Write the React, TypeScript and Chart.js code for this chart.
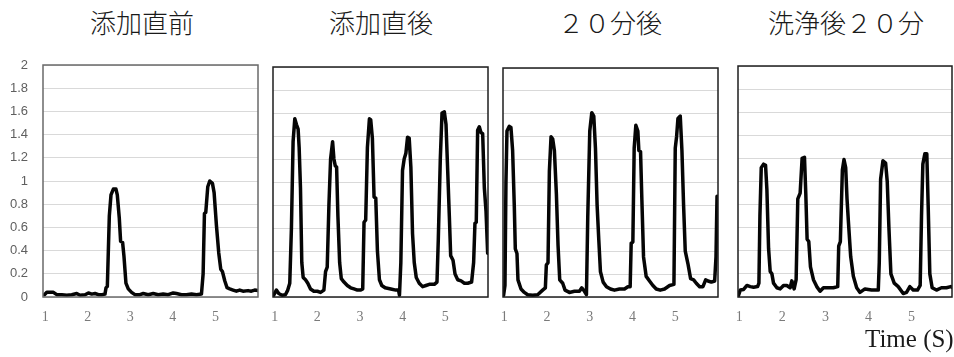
import React, { useEffect, useRef } from "react";
import { Chart, registerables } from "chart.js";

Chart.register(...registerables);

const titles = ["添加直前", "添加直後", "２０分後", "洗浄後２０分"];
const xTickValues = [1, 2, 3, 4, 5];
const yTickStep = 0.2;
const yMin = 0;
const yMax = 2;
const xAxisTitle = "Time (S)";

const time1 = [0.984, 1.039, 1.117, 1.195, 1.273, 1.391, 1.508, 1.625, 1.742, 1.82, 1.938, 2.016, 2.094, 2.172, 2.25, 2.328, 2.406, 2.43, 2.461, 2.508, 2.547, 2.602, 2.664, 2.695, 2.742, 2.773, 2.82, 2.852, 2.898, 2.953, 3.031, 3.109, 3.227, 3.305, 3.422, 3.539, 3.656, 3.773, 3.891, 4.008, 4.086, 4.203, 4.32, 4.438, 4.555, 4.672, 4.711, 4.742, 4.773, 4.82, 4.867, 4.93, 4.969, 5.023, 5.078, 5.125, 5.164, 5.219, 5.273, 5.336, 5.414, 5.492, 5.57, 5.648, 5.766, 5.844, 5.922, 6.0];
const signal1 = [0.02, 0.04, 0.04, 0.04, 0.02, 0.02, 0.015, 0.02, 0.03, 0.015, 0.02, 0.035, 0.025, 0.03, 0.02, 0.02, 0.025, 0.08, 0.09, 0.7, 0.88, 0.93, 0.93, 0.88, 0.68, 0.48, 0.47, 0.35, 0.12, 0.07, 0.04, 0.02, 0.02, 0.03, 0.02, 0.03, 0.02, 0.025, 0.02, 0.035, 0.03, 0.02, 0.02, 0.025, 0.02, 0.025, 0.2, 0.72, 0.73, 0.95, 1.0, 0.98, 0.9, 0.62, 0.38, 0.24, 0.22, 0.14, 0.08, 0.07, 0.06, 0.05, 0.06, 0.05, 0.055, 0.05, 0.06, 0.055];

const time2 = [0.976, 1.039, 1.094, 1.173, 1.251, 1.306, 1.353, 1.392, 1.431, 1.471, 1.51, 1.549, 1.573, 1.604, 1.635, 1.667, 1.722, 1.776, 1.839, 1.918, 2.0, 2.075, 2.153, 2.192, 2.231, 2.271, 2.31, 2.357, 2.388, 2.42, 2.451, 2.482, 2.522, 2.561, 2.624, 2.702, 2.78, 2.859, 2.937, 3.016, 3.063, 3.094, 3.133, 3.173, 3.22, 3.251, 3.29, 3.329, 3.369, 3.408, 3.455, 3.51, 3.588, 3.722, 3.839, 3.902, 3.925, 3.957, 3.996, 4.035, 4.075, 4.114, 4.153, 4.192, 4.231, 4.271, 4.318, 4.388, 4.467, 4.545, 4.624, 4.741, 4.804, 4.835, 4.882, 4.922, 4.976, 5.016, 5.055, 5.094, 5.125, 5.18, 5.227, 5.29, 5.369, 5.447, 5.525, 5.616, 5.663, 5.694, 5.725, 5.757, 5.796, 5.835, 5.875, 5.914, 5.953, 5.992];
const signal2 = [0.015, 0.06, 0.03, 0.015, 0.02, 0.06, 0.12, 0.6, 1.35, 1.55, 1.5, 1.46, 1.3, 0.95, 0.3, 0.17, 0.15, 0.12, 0.07, 0.05, 0.05, 0.04, 0.06, 0.22, 0.26, 0.8, 1.2, 1.35, 1.2, 1.14, 1.13, 0.7, 0.3, 0.16, 0.13, 0.1, 0.08, 0.07, 0.06, 0.06, 0.07, 0.65, 0.67, 1.3, 1.55, 1.54, 1.38, 0.87, 0.86, 0.4, 0.15, 0.1, 0.08, 0.07, 0.06, 0.06, 0.015, 0.3, 1.1, 1.2, 1.25, 1.39, 1.38, 1.13, 0.55, 0.3, 0.17, 0.12, 0.09, 0.1, 0.11, 0.11, 0.13, 0.5, 1.2, 1.6, 1.61, 1.5, 1.1, 0.7, 0.36, 0.32, 0.2, 0.15, 0.14, 0.12, 0.12, 0.13, 0.3, 0.64, 0.65, 1.45, 1.48, 1.43, 1.42, 0.95, 0.75, 0.38];

const time3 = [0.984, 1.016, 1.039, 1.063, 1.117, 1.156, 1.195, 1.234, 1.258, 1.297, 1.32, 1.391, 1.469, 1.547, 1.664, 1.781, 1.898, 1.961, 1.984, 2.023, 2.055, 2.094, 2.133, 2.172, 2.219, 2.258, 2.297, 2.367, 2.422, 2.523, 2.641, 2.758, 2.813, 2.875, 2.922, 2.953, 3.0, 3.047, 3.094, 3.133, 3.172, 3.211, 3.25, 3.313, 3.391, 3.484, 3.578, 3.695, 3.813, 3.891, 3.945, 3.969, 4.008, 4.039, 4.078, 4.125, 4.148, 4.188, 4.219, 4.258, 4.32, 4.398, 4.477, 4.555, 4.648, 4.75, 4.867, 4.969, 5.0, 5.031, 5.063, 5.117, 5.156, 5.195, 5.234, 5.297, 5.359, 5.43, 5.492, 5.57, 5.648, 5.711, 5.766, 5.844, 5.922, 5.953, 5.977];
const signal3 = [0.015, 0.1, 1.0, 1.45, 1.49, 1.48, 1.28, 0.8, 0.42, 0.38, 0.15, 0.07, 0.04, 0.02, 0.015, 0.02, 0.06, 0.08, 0.28, 0.3, 1.1, 1.4, 1.38, 1.28, 0.9, 0.45, 0.15, 0.12, 0.06, 0.04, 0.05, 0.05, 0.08, 0.05, 0.02, 0.7, 1.45, 1.61, 1.58, 1.3, 0.8, 0.5, 0.22, 0.13, 0.09, 0.07, 0.06, 0.07, 0.07, 0.09, 0.09, 0.47, 0.48, 1.3, 1.5, 1.45, 1.28, 1.27, 0.85, 0.35, 0.18, 0.14, 0.1, 0.07, 0.06, 0.07, 0.1, 0.11, 1.3, 1.4, 1.56, 1.58, 1.28, 0.8, 0.4, 0.29, 0.16, 0.15, 0.12, 0.09, 0.09, 0.15, 0.14, 0.13, 0.14, 0.35, 0.88];

const time4 = [0.969, 1.023, 1.1, 1.178, 1.255, 1.332, 1.425, 1.456, 1.479, 1.51, 1.564, 1.61, 1.641, 1.68, 1.718, 1.757, 1.795, 1.873, 1.95, 2.027, 2.104, 2.181, 2.22, 2.274, 2.32, 2.359, 2.413, 2.459, 2.514, 2.544, 2.575, 2.614, 2.653, 2.722, 2.799, 2.876, 2.954, 3.07, 3.185, 3.286, 3.309, 3.347, 3.394, 3.432, 3.471, 3.502, 3.533, 3.587, 3.649, 3.726, 3.803, 3.919, 4.073, 4.228, 4.251, 4.282, 4.336, 4.398, 4.436, 4.475, 4.521, 4.598, 4.691, 4.807, 4.884, 4.961, 5.039, 5.139, 5.201, 5.232, 5.263, 5.309, 5.355, 5.386, 5.425, 5.479, 5.579, 5.695, 5.811, 5.911, 5.965];
const signal4 = [0.0, 0.06, 0.065, 0.1, 0.09, 0.085, 0.09, 0.12, 0.7, 1.12, 1.15, 1.14, 0.93, 0.42, 0.22, 0.2, 0.12, 0.08, 0.07, 0.1, 0.1, 0.08, 0.14, 0.07, 0.15, 0.85, 0.9, 1.2, 1.21, 0.9, 0.5, 0.48, 0.26, 0.15, 0.09, 0.05, 0.08, 0.08, 0.08, 0.09, 0.44, 0.48, 1.1, 1.19, 1.12, 0.85, 0.66, 0.35, 0.18, 0.08, 0.04, 0.07, 0.06, 0.06, 0.3, 1.02, 1.18, 1.16, 1.0, 0.6, 0.2, 0.12, 0.09, 0.03, 0.04, 0.09, 0.06, 0.06, 0.1, 0.7, 1.15, 1.24, 1.24, 0.8, 0.2, 0.08, 0.06, 0.08, 0.08, 0.09, 0.08];

const CANVAS_H = 330;
const PLOT_BOTTOM = 297;

type PanelCfg = {
  title: string;
  t: number[];
  v: number[];
  plotLeft: number;
  plotRight: number;
  plotTop: number;
  xMin: number;
  xMax: number;
  showY: boolean;
  frame: string;
  titleCenter: number;
};

const panels: PanelCfg[] = [
  { title: titles[0], t: time1, v: signal1, plotLeft: 43, plotRight: 258, plotTop: 65, xMin: 0.95, xMax: 6.0, showY: true, frame: "#6a6a6a", titleCenter: 142 },
  { title: titles[1], t: time2, v: signal2, plotLeft: 273, plotRight: 488, plotTop: 67, xMin: 0.96, xMax: 6.0, showY: false, frame: "#1e1e1e", titleCenter: 381 },
  { title: titles[2], t: time3, v: signal3, plotLeft: 503, plotRight: 718, plotTop: 68, xMin: 0.97, xMax: 6.0, showY: false, frame: "#1e1e1e", titleCenter: 610 },
  { title: titles[3], t: time4, v: signal4, plotLeft: 738, plotRight: 952, plotTop: 66, xMin: 0.97, xMax: 5.94, showY: false, frame: "#1e1e1e", titleCenter: 846 },
];

function Panel({ cfg }: { cfg: PanelCfg }) {
  const ref = useRef<HTMLCanvasElement>(null);
  const yw = cfg.showY ? cfg.plotLeft : 2;
  const canvasLeft = cfg.plotLeft - yw;
  const canvasWidth = cfg.plotRight + 2 - canvasLeft;

  useEffect(() => {
    if (!ref.current) return;
    const framePlugin = {
      id: "frame",
      afterDatasetsDraw(chart: any) {
        const { ctx, chartArea: a } = chart;
        ctx.save();
        ctx.strokeStyle = cfg.frame;
        ctx.lineWidth = 1.5;
        ctx.strokeRect(a.left, a.top, a.right - a.left, a.bottom - a.top);
        ctx.restore();
      },
    };
    const chart = new Chart(ref.current, {
      type: "line",
      data: {
        datasets: [
          {
            data: cfg.t.map((x, i) => ({ x, y: cfg.v[i] })),
            borderColor: "#050505",
            borderWidth: 3.5,
            borderJoinStyle: "round",
            borderCapStyle: "round",
            pointRadius: 0,
            tension: 0,
            fill: false,
          },
        ],
      },
      options: {
        animation: false,
        responsive: false,
        maintainAspectRatio: false,
        layout: {
          padding: { top: cfg.plotTop, left: cfg.showY ? 0 : 2, right: 2, bottom: 0 },
        },
        plugins: { legend: { display: false }, tooltip: { enabled: false }, title: { display: false } },
        scales: {
          x: {
            type: "linear",
            min: cfg.xMin,
            max: cfg.xMax,
            grid: { display: false, drawTicks: false },
            border: { display: false },
            afterBuildTicks: (scale: any) => {
              scale.ticks = xTickValues.map((value) => ({ value }));
            },
            afterFit: (scale: any) => {
              scale.height = CANVAS_H - PLOT_BOTTOM;
              scale.paddingLeft = 0;
              scale.paddingRight = 0;
            },
            ticks: {
              padding: 12,
              color: "#7a7a7a",
              font: { family: "'Liberation Serif', 'DejaVu Serif', serif", size: 14 },
              maxRotation: 0,
              autoSkip: false,
              callback: (v: any) => String(v),
            },
          },
          y: {
            type: "linear",
            min: yMin,
            max: yMax,
            grid: { color: "#d9d9d9", lineWidth: 1, drawTicks: false },
            border: { display: false },
            afterFit: (scale: any) => {
              scale.width = cfg.showY ? yw : 0;
              scale.paddingTop = 0;
              scale.paddingBottom = 0;
            },
            ticks: {
              display: cfg.showY,
              stepSize: yTickStep,
              padding: 15,
              color: "#5f5f5f",
              font: { family: "'Liberation Sans', Arial, sans-serif", size: 13 },
              callback: (v: any) => String(Math.round(Number(v) * 10) / 10),
            },
          },
        },
      },
      plugins: [framePlugin],
    } as any);
    return () => chart.destroy();
  }, []);

  return (
    <>
      <div
        style={{
          position: "absolute",
          left: cfg.titleCenter - 120,
          width: 240,
          top: 8,
          textAlign: "center",
          fontFamily: "'Noto Sans CJK JP', 'Noto Sans', sans-serif",
          fontSize: 26,
          fontWeight: 300,
          lineHeight: "28px",
          color: "#1a1a1a",
          whiteSpace: "nowrap",
        }}
      >
        {cfg.title}
      </div>
      <canvas
        ref={ref}
        width={canvasWidth}
        height={CANVAS_H}
        style={{ position: "absolute", left: canvasLeft, top: 0, width: canvasWidth, height: CANVAS_H }}
      />
    </>
  );
}

export default function App() {
  return (
    <div style={{ position: "absolute", left: 0, top: 0, width: 954, height: 357, background: "#ffffff", overflow: "hidden" }}>
      {panels.map((p, i) => (
        <Panel key={i} cfg={p} />
      ))}
      <div
        style={{
          position: "absolute",
          left: 865,
          top: 325,
          fontFamily: "'Liberation Serif', 'DejaVu Serif', serif",
          fontSize: 25,
          lineHeight: "28px",
          color: "#1a1a1a",
          whiteSpace: "nowrap",
        }}
      >
        {xAxisTitle}
      </div>
    </div>
  );
}
